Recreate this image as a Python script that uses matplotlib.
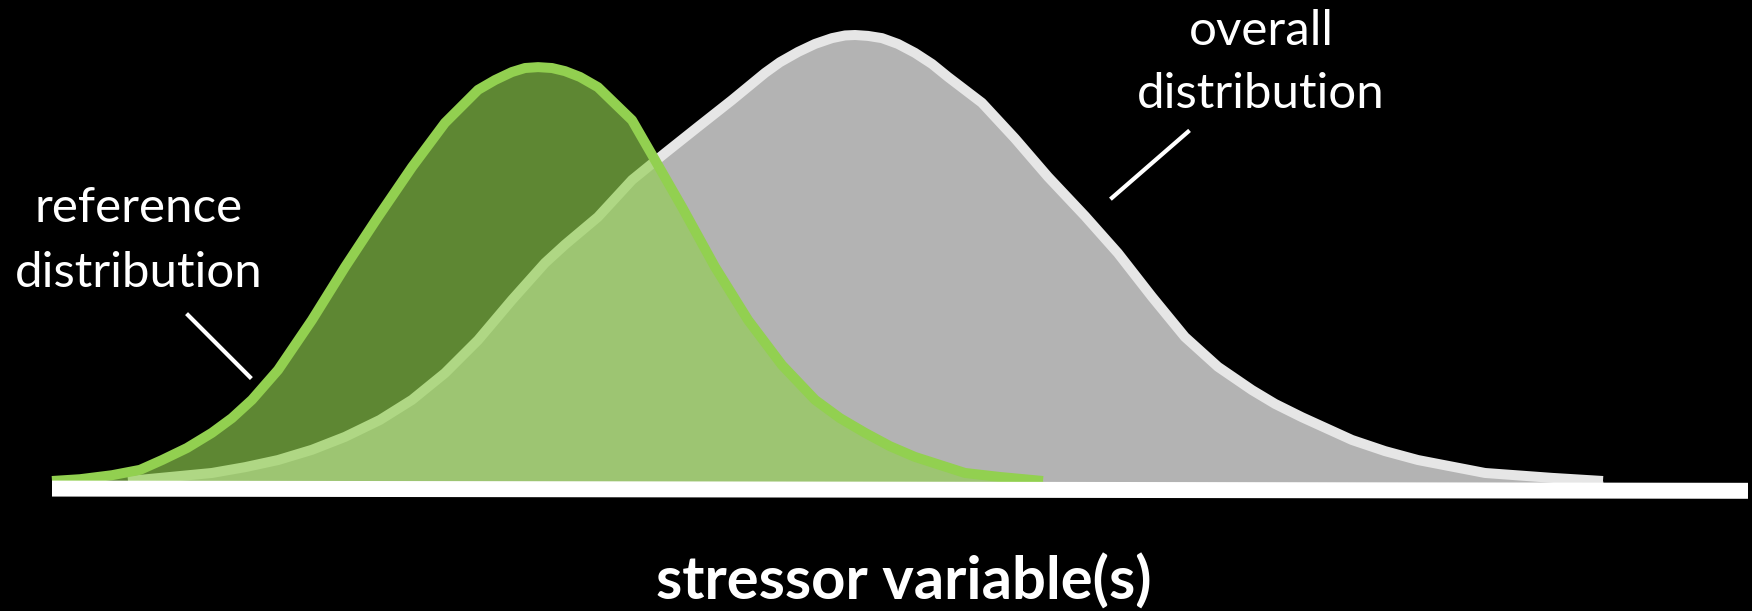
#!/usr/bin/env python3
"""stressor distributions — reference vs overall distribution along a stressor gradient."""
import matplotlib
matplotlib.use("Agg")
import matplotlib.pyplot as plt

# 값은 그림에서 읽은 것 (x: stressor 0~100, y: 상대 밀도, overall 최고점 = 1)
REF_X = [0.0, 1.65, 3.54, 5.19, 6.49, 7.96, 9.43, 10.61, 11.79, 13.33, 15.33,
         17.28, 19.22, 21.23, 23.17, 25.12, 26.12, 27.12, 27.89, 28.66, 29.48,
         30.25, 31.13, 32.19, 34.20, 35.55, 37.15, 39.09, 41.04, 43.04, 44.99,
         46.46, 47.94, 49.41, 50.88, 53.83, 55.90, 58.43]
REF_Y = [0.0, 0.004, 0.013, 0.025, 0.047, 0.074, 0.108, 0.141, 0.182, 0.249, 0.361,
         0.480, 0.592, 0.704, 0.803, 0.877, 0.899, 0.917, 0.926, 0.928, 0.926,
         0.919, 0.906, 0.883, 0.809, 0.720, 0.614, 0.480, 0.361, 0.260, 0.182,
         0.141, 0.108, 0.078, 0.054, 0.018, 0.009, 0.0]

ALL_X = [4.48, 6.96, 9.43, 11.38, 13.33, 15.33, 17.28, 19.34, 21.23, 23.17,
         25.12, 27.12, 29.07, 30.25, 32.19, 34.20, 36.14, 38.09, 40.09, 42.04,
         42.92, 43.99, 44.99, 45.99, 46.76, 47.35, 48.11, 48.94, 49.88, 50.88,
         51.89, 52.83, 54.83, 56.78, 58.73, 60.91, 62.85, 64.86, 66.80, 68.75,
         70.75, 72.11, 73.70, 76.65, 78.60, 80.54, 84.49, 88.44, 91.45]
ALL_Y = [0.0, 0.009, 0.018, 0.031, 0.047, 0.070, 0.099, 0.137, 0.182, 0.242,
         0.316, 0.406, 0.489, 0.530, 0.592, 0.675, 0.735, 0.794, 0.854, 0.915,
         0.939, 0.962, 0.980, 0.993, 0.999, 1.000, 0.998, 0.993, 0.980, 0.960,
         0.935, 0.906, 0.848, 0.768, 0.682, 0.594, 0.511, 0.413, 0.323, 0.256,
         0.204, 0.173, 0.143, 0.092, 0.067, 0.047, 0.018, 0.007, 0.0]

LABEL_REF = ["reference", "distribution"]
LABEL_ALL = ["overall", "distribution"]
X_LABEL   = "stressor variable(s)"

GREEN      = "#92d050"
GRAY_FILL  = "#b3b3b3"
GRAY_EDGE  = "#e6e6e6"
FONT       = ["Lato", "DejaVu Sans"]


def main():
    fig = plt.figure(figsize=(17.52, 6.11), dpi=100, facecolor="black")
    ax = fig.add_axes([0, 0, 1, 1])
    ax.set_facecolor("black")
    ax.set_xlim(-3.066, 100.236)
    ax.set_ylim(-0.2915, 1.0785)
    ax.axis("off")

    # overall (회색) 먼저
    ax.fill_between(ALL_X, ALL_Y, -0.01, color=GRAY_FILL, lw=0, zorder=1)
    ax.plot(ALL_X, ALL_Y, color=GRAY_EDGE, lw=7.2, solid_joinstyle="round",
            solid_capstyle="butt", zorder=2)

    # reference (녹색, 반투명 채움)
    ax.fill_between(REF_X, REF_Y, -0.01, color=GREEN, alpha=0.65, lw=0, zorder=3)
    ax.plot(REF_X, REF_Y, color=GREEN, lw=7.2, solid_joinstyle="round",
            solid_capstyle="butt", zorder=4)

    # 축선
    ax.plot([0, 100], [-0.017, -0.022], color="white", lw=11.5,
            solid_capstyle="butt", zorder=5)

    # 라벨 + 지시선 (줄마다 따로 배치)
    for txt, yb in zip(LABEL_REF, [0.581, 0.435]):
        ax.text(5.1, yb, txt, ha="center", va="baseline", color="white",
                fontsize=35.5, family=FONT)
    ax.plot([8.02, 11.67], [0.372, 0.233], color="white", lw=3, zorder=6)

    for txt, yb in zip(LABEL_ALL, [0.978, 0.836]):
        ax.text(71.3, yb, txt, ha="center", va="baseline", color="white",
                fontsize=35.5, family=FONT)
    ax.plot([66.98, 62.50], [0.783, 0.635], color="white", lw=3, zorder=6)

    ax.text(50.2, -0.265, X_LABEL, ha="center", va="baseline", color="white",
            fontsize=43, fontweight="bold", family=FONT)

    fig.savefig("out.png", dpi=100, facecolor="black")
    plt.close(fig)


if __name__ == "__main__":
    main()
